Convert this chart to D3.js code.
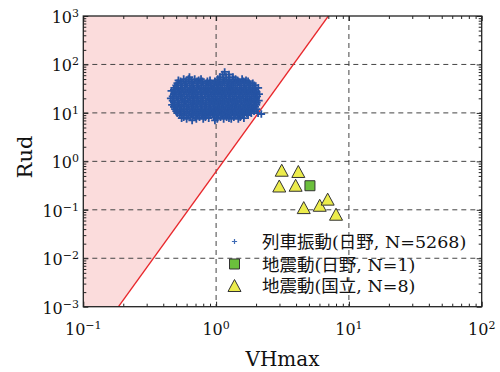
<!DOCTYPE html>
<html>
<head>
<meta charset="utf-8">
<script src="https://cdn.jsdelivr.net/npm/d3@7"></script>
<style>
  html, body { margin: 0; padding: 0; background: #fff; }
  svg { display: block; }
</style>
</head>
<body>
<svg id="chart" width="500" height="372"></svg>
<script>
// Train-induced vibration (Hino): rows of equal Rud, with the VHmax values in each row
const trainRud = [70, 62, 55, 50, 47, 45, 41, 37, 33, 30, 28.5, 27, 24.5, 22, 20, 18, 17, 16.3, 14.7, 13.3, 12, 10.9, 9.9, 9.5, 9.0, 8.2, 7.8, 7.5, 7.0];
const trainVH = [
  [1.16],
  [1.12, 1.25],
  [0.63, 1.07, 1.19, 1.34],
  [0.57, 0.62, 0.69, 0.77, 1.03, 1.13, 1.26, 1.40, 1.57],
  [0.52, 0.74, 0.90, 1.45, 1.68],
  [0.54, 0.59, 0.65, 0.72, 0.79, 0.86, 0.98, 1.06, 1.15, 1.24, 1.35, 1.47, 1.61, 1.74],
  [0.51, 0.55, 0.60, 0.66, 0.72, 0.78, 0.84, 0.91, 0.97, 1.05, 1.12, 1.21, 1.30, 1.40, 1.51, 1.63, 1.77, 1.89],
  [0.50, 0.54, 0.58, 0.63, 0.68, 0.74, 0.80, 0.87, 0.93, 1.00, 1.08, 1.16, 1.25, 1.34, 1.44, 1.55, 1.68, 1.81, 1.94],
  [0.49, 0.52, 0.56, 0.61, 0.66, 0.71, 0.77, 0.83, 0.90, 0.96, 1.03, 1.11, 1.20, 1.29, 1.39, 1.50, 1.61, 1.74, 1.87, 1.99, 2.08],
  [0.48, 0.51, 0.55, 0.59, 0.64, 0.69, 0.75, 0.81, 0.87, 0.94, 1.01, 1.08, 1.16, 1.25, 1.35, 1.45, 1.56, 1.68, 1.81, 1.95],
  [0.46, 0.66, 0.85, 1.04, 1.29, 1.53],
  [0.49, 0.53, 0.57, 0.62, 0.67, 0.72, 0.78, 0.84, 0.91, 0.98, 1.05, 1.13, 1.22, 1.31, 1.41, 1.52, 1.64, 1.77, 1.90, 2.02],
  [0.48, 0.52, 0.55, 0.60, 0.65, 0.70, 0.76, 0.82, 0.88, 0.95, 1.02, 1.10, 1.18, 1.27, 1.37, 1.48, 1.59, 1.71, 1.84, 1.98, 2.11],
  [0.47, 0.50, 0.54, 0.58, 0.63, 0.68, 0.73, 0.79, 0.86, 0.92, 0.99, 1.07, 1.15, 1.24, 1.33, 1.43, 1.54, 1.66, 1.79, 1.93, 2.04],
  [0.455, 0.48, 0.52, 0.56, 0.61, 0.66, 0.71, 0.77, 0.83, 0.89, 0.96, 1.03, 1.11, 1.19, 1.28, 1.38, 1.49, 1.60, 1.73, 1.86, 2.00],
  [0.47, 0.51, 0.55, 0.59, 0.64, 0.69, 0.74, 0.80, 0.87, 0.93, 1.00, 1.08, 1.16, 1.25, 1.35, 1.45, 1.56, 1.69, 1.82, 1.96, 2.10],
  [0.58, 0.76, 0.95, 1.12, 1.40, 1.75],
  [0.48, 0.52, 0.57, 0.62, 0.67, 0.72, 0.78, 0.84, 0.90, 0.97, 1.05, 1.13, 1.21, 1.31, 1.41, 1.52, 1.63, 1.76, 1.90, 2.03],
  [0.465, 0.49, 0.53, 0.57, 0.62, 0.67, 0.72, 0.78, 0.84, 0.91, 0.98, 1.06, 1.14, 1.23, 1.32, 1.42, 1.53, 1.65, 1.78, 1.92, 2.01],
  [0.48, 0.51, 0.55, 0.60, 0.65, 0.70, 0.76, 0.82, 0.88, 0.95, 1.02, 1.10, 1.18, 1.27, 1.37, 1.47, 1.59, 1.71, 1.84, 1.97],
  [0.49, 0.53, 0.57, 0.61, 0.66, 0.72, 0.77, 0.83, 0.90, 0.97, 1.04, 1.12, 1.21, 1.30, 1.40, 1.51, 1.62, 1.75, 1.88, 2.02],
  [0.50, 0.54, 0.58, 0.63, 0.68, 0.73, 0.79, 0.85, 0.92, 0.99, 1.07, 1.15, 1.24, 1.33, 1.43, 1.54, 1.66, 1.79, 1.93],
  [0.51, 0.55, 0.60, 0.65, 0.70, 0.75, 0.81, 0.87, 0.94, 1.01, 1.09, 1.17, 1.26, 1.36, 1.46, 1.57, 1.70, 1.84, 2.07],
  [2.19],
  [0.53, 0.57, 0.62, 0.67, 0.72, 0.78, 0.84, 0.90, 0.97, 1.04, 1.12, 1.21, 1.30, 1.40, 1.51, 1.63, 1.74],
  [0.57, 0.64, 0.70, 0.75, 0.83, 0.96, 1.08, 1.20, 1.36, 1.52],
  [0.55, 0.88, 1.25, 1.62],
  [0.60, 0.71, 0.80, 1.02, 1.14, 1.30, 1.47],
  [0.66, 0.98]
];

// Earthquake ground motion (Hino, N=1)
const quakeHinoVH = [5.09];
const quakeHinoRud = [0.314];

// Earthquake ground motion (Kunitachi, N=8)
const quakeKunitachiVH = [3.12, 4.16, 2.99, 3.97, 4.57, 6.03, 6.92, 8.00];
const quakeKunitachiRud = [0.656, 0.618, 0.310, 0.321, 0.111, 0.124, 0.166, 0.081];

// Boundary line Rud = a * VHmax^b, given by its two ends on the frame
const boundaryVH = [0.184, 7.0];
const boundaryRud = [1e-3, 1e3];

const legendLabels = ["列車振動(日野, N=5268)", "地震動(日野, N=1)", "地震動(国立, N=8)"];

const xDomain = [0.1, 100];
const yDomain = [1e-3, 1e3];

const plot = { left: 83.3, right: 481.7, top: 16, bottom: 306.7 };

const svg = d3.select("#chart");
const x = d3.scaleLog().domain(xDomain).range([plot.left, plot.right]);
const y = d3.scaleLog().domain(yDomain).range([plot.bottom, plot.top]);

const isMajor = d => Math.abs(Math.log10(d) - Math.round(Math.log10(d))) < 1e-9;

svg.append("defs").append("clipPath").attr("id", "plotClip")
  .append("rect")
  .attr("x", plot.left).attr("y", plot.top)
  .attr("width", plot.right - plot.left).attr("height", plot.bottom - plot.top);

const inner = svg.append("g").attr("clip-path", "url(#plotClip)");

// Shaded region above/left of the boundary line
const regionPts = [
  [xDomain[0], yDomain[0]],
  [boundaryVH[0], boundaryRud[0]],
  [boundaryVH[1], boundaryRud[1]],
  [xDomain[0], yDomain[1]]
];
inner.append("path")
  .attr("d", d3.line().x(d => x(d[0])).y(d => y(d[1]))(regionPts) + "Z")
  .attr("fill", "#fbdcdc");

// Dashed decade grid
const gridX = x.ticks().filter(d => isMajor(d) && d > xDomain[0] && d < xDomain[1]);
const gridY = y.ticks().filter(d => isMajor(d) && d > yDomain[0] && d < yDomain[1]);
inner.selectAll(".gx").data(gridX).join("line")
  .attr("x1", d => x(d)).attr("x2", d => x(d))
  .attr("y1", plot.top).attr("y2", plot.bottom)
  .attr("stroke", "#444").attr("stroke-width", 1).attr("stroke-dasharray", "5,4");
inner.selectAll(".gy").data(gridY).join("line")
  .attr("x1", plot.left).attr("x2", plot.right)
  .attr("y1", d => y(d)).attr("y2", d => y(d))
  .attr("stroke", "#444").attr("stroke-width", 1).attr("stroke-dasharray", "5,4");

// Boundary line
inner.append("line")
  .attr("x1", x(boundaryVH[0])).attr("y1", y(boundaryRud[0]))
  .attr("x2", x(boundaryVH[1])).attr("y2", y(boundaryRud[1]))
  .attr("stroke", "#e8272b").attr("stroke-width", 1.3);

// Train vibration points
const trainPoints = [];
trainRud.forEach((r, i) => trainVH[i].forEach(v => trainPoints.push([v, r])));
const plusPath = s => `M${-s},0H${s}M0,${-s}V${s}`;
inner.append("g").selectAll("path").data(trainPoints).join("path")
  .attr("transform", d => `translate(${x(d[0])},${y(d[1])})`)
  .attr("d", plusPath(3.8))
  .attr("stroke", "#2553a3").attr("stroke-width", 1.8).attr("fill", "none");

// Triangle & square markers
const triPath = "M0,-6L6.5,6L-6.5,6Z";
const sqPath = "M-5,-5H5V5H-5Z";
inner.append("g").selectAll("path").data(quakeHinoVH.map((v, i) => [v, quakeHinoRud[i]])).join("path")
  .attr("transform", d => `translate(${x(d[0])},${y(d[1])})`)
  .attr("d", sqPath)
  .attr("fill", "#6bbf3c").attr("stroke", "#333").attr("stroke-width", 1);
inner.append("g").selectAll("path").data(quakeKunitachiVH.map((v, i) => [v, quakeKunitachiRud[i]])).join("path")
  .attr("transform", d => `translate(${x(d[0])},${y(d[1])})`)
  .attr("d", triPath)
  .attr("fill", "#ecec4c").attr("stroke", "#333").attr("stroke-width", 1);

// Inward ticks on all four sides
function styleTicks(g, sign) {
  g.select(".domain").remove();
  g.selectAll(".tick text").remove();
  g.selectAll(".tick line")
    .attr("stroke", "#222")
    .each(function(d) {
      const len = (isMajor(d) ? 5 : 3) * sign;
      const el = d3.select(this);
      if (el.attr("x2") !== null && +el.attr("x2") !== 0) el.attr("x2", len);
      else el.attr("y2", len);
    });
}
svg.append("g").attr("transform", `translate(0,${plot.bottom})`)
  .call(d3.axisBottom(x).tickSize(-3).tickFormat(""))
  .call(g => styleTicks(g, -1));
svg.append("g").attr("transform", `translate(0,${plot.top})`)
  .call(d3.axisTop(x).tickSize(-3).tickFormat(""))
  .call(g => styleTicks(g, 1));
svg.append("g").attr("transform", `translate(${plot.left},0)`)
  .call(d3.axisLeft(y).tickSize(-3).tickFormat(""))
  .call(g => styleTicks(g, 1));
svg.append("g").attr("transform", `translate(${plot.right},0)`)
  .call(d3.axisRight(y).tickSize(-3).tickFormat(""))
  .call(g => styleTicks(g, -1));

// Frame
svg.append("rect")
  .attr("x", plot.left).attr("y", plot.top)
  .attr("width", plot.right - plot.left).attr("height", plot.bottom - plot.top)
  .attr("fill", "none").attr("stroke", "#222").attr("stroke-width", 1.3);

// Power-of-ten tick labels
const tickFont = "DejaVu Serif";
const expText = d => { const e = Math.round(Math.log10(d)); return e < 0 ? "\u2212" + (-e) : String(e); };
function powLabel(sel) {
  sel.attr("font-family", tickFont).attr("font-size", 16).attr("fill", "#111");
  sel.append("tspan").text("10");
  sel.append("tspan").attr("font-size", 11).attr("dy", -6).text(d => expText(d));
}
svg.append("g").selectAll("text").data(x.ticks().filter(isMajor)).join("text")
  .attr("x", d => x(d)).attr("y", 335)
  .attr("text-anchor", "middle")
  .call(powLabel);
svg.append("g").selectAll("text").data(y.ticks().filter(isMajor)).join("text")
  .attr("x", 79).attr("y", d => y(d) + 7)
  .attr("text-anchor", "end")
  .call(powLabel);

// Axis titles
svg.append("text")
  .attr("x", (plot.left + plot.right) / 2).attr("y", 366)
  .attr("text-anchor", "middle")
  .attr("font-family", "DejaVu Serif").attr("font-size", 20).attr("fill", "#111")
  .text("VHmax");
svg.append("text")
  .attr("transform", `translate(32,157) rotate(-90)`)
  .attr("text-anchor", "middle")
  .attr("font-family", "DejaVu Serif").attr("font-size", 21).attr("fill", "#111")
  .text("Rud");

// Legend
const legendX = 234.5, legendTextX = 262;
const legendY = [241.5, 264, 285.5];
const leg = svg.append("g");
leg.append("path").attr("transform", `translate(${legendX},${legendY[0]})`)
  .attr("d", plusPath(2.6)).attr("stroke", "#3e6ab5").attr("stroke-width", 1.2).attr("fill", "none");
leg.append("path").attr("transform", `translate(${legendX},${legendY[1]})`)
  .attr("d", sqPath).attr("fill", "#6bbf3c").attr("stroke", "#333").attr("stroke-width", 1);
leg.append("path").attr("transform", `translate(${legendX},${legendY[2]})`)
  .attr("d", triPath).attr("fill", "#ecec4c").attr("stroke", "#333").attr("stroke-width", 1);
leg.selectAll("text").data(legendLabels).join("text")
  .attr("x", legendTextX).attr("y", (d, i) => legendY[i] + 6.5)
  .attr("font-family", "'DejaVu Serif', 'Noto Sans CJK JP'")
  .attr("font-size", 17.5).attr("fill", "#111")
  .text(d => d);
</script>
</body>
</html>
